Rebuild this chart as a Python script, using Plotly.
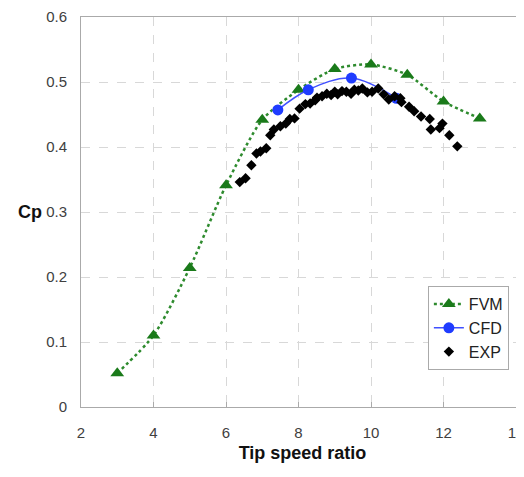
import plotly.graph_objects as go

# FVM (green triangles, dotted curve)
fvm_x = [3, 4, 5, 6, 7, 8, 9, 10, 11, 12, 13]
fvm_y = [0.052, 0.110, 0.214, 0.341, 0.442, 0.488, 0.520, 0.527, 0.511, 0.470, 0.444]

# CFD (blue circles, solid curve)
cfd_x = [7.43, 8.27, 9.46, 10.7]
cfd_y = [0.457, 0.488, 0.506, 0.475]

# EXP (black diamonds)
exp_x = [6.38, 6.54, 6.70, 6.84, 6.95, 7.11, 7.22, 7.32, 7.50, 7.65, 7.76, 7.89,
         8.03, 8.19, 8.32, 8.46, 8.51, 8.65, 8.78, 8.90, 9.00, 9.08, 9.20, 9.32,
         9.45, 9.54, 9.65, 9.76, 9.90, 10.03, 10.20, 10.35, 10.49, 10.65, 10.81,
         10.84, 11.05, 11.19, 11.38, 11.62, 11.65, 11.89, 11.97, 12.16, 12.38]
exp_y = [0.346, 0.352, 0.372, 0.390, 0.393, 0.398, 0.418, 0.427, 0.432, 0.436, 0.443, 0.444,
         0.459, 0.466, 0.467, 0.472, 0.476, 0.478, 0.482, 0.480, 0.485, 0.481, 0.486, 0.485,
         0.482, 0.488, 0.487, 0.490, 0.484, 0.485, 0.490, 0.481, 0.473, 0.478, 0.475,
         0.469, 0.462, 0.455, 0.447, 0.443, 0.427, 0.429, 0.436, 0.418, 0.401]

x_ticks = [2, 4, 6, 8, 10, 12, 14]
y_ticks = [0, 0.1, 0.2, 0.3, 0.4, 0.5, 0.6]

FONT = "Arial, Liberation Sans, sans-serif"

fig = go.Figure()
fig.add_trace(go.Scatter(
    x=fvm_x, y=fvm_y, name="FVM", mode="lines+markers",
    line=dict(color="#2e8b2e", width=2.5, dash="dot", shape="spline", smoothing=0.7),
    marker=dict(symbol="triangle-up", size=12, color="#1a7a1a"),
))
fig.add_trace(go.Scatter(
    x=cfd_x, y=cfd_y, name="CFD", mode="lines+markers",
    line=dict(color="#4050ff", width=1.5, shape="spline"),
    marker=dict(symbol="circle", size=11, color="#1f3cff"),
))
fig.add_trace(go.Scatter(
    x=exp_x, y=exp_y, name="EXP", mode="markers",
    marker=dict(symbol="diamond", size=8, color="black"),
))

fig.update_layout(
    width=516, height=469,
    margin=dict(l=73, r=0, t=9, b=70, autoexpand=False),
    paper_bgcolor="white", plot_bgcolor="white",
    font=dict(family=FONT, color="#404040", size=15),
    showlegend=True,
    legend=dict(
        x=0.783, y=0.31, xanchor="left", yanchor="top",
        bordercolor="#aaaaaa", borderwidth=1, bgcolor="white",
        font=dict(size=16, color="#222222"),
        tracegroupgap=0, itemwidth=30,
    ),
    xaxis=dict(
        range=[2, 14.22], tickvals=x_ticks,
        showgrid=True, gridcolor="#d8d8d8", griddash="dash", gridwidth=1,
        showline=True, linecolor="#aaaaaa", linewidth=1, mirror=True,
        ticks="inside", ticklen=5, tickcolor="#aaaaaa",
        ticklabelstandoff=12, zeroline=False, automargin=False,
        ticklabeloverflow="allow",
        title=dict(text="<b>Tip speed ratio</b>", font=dict(size=18, color="#111111"), standoff=6),
    ),
    yaxis=dict(
        range=[0, 0.6], tickvals=y_ticks, ticktext=["0", "0.1", "0.2", "0.3", "0.4", "0.5", "0.6"],
        showgrid=True, gridcolor="#d8d8d8", griddash="dash", gridwidth=1,
        showline=True, linecolor="#aaaaaa", linewidth=1,
        ticks="", ticklabelstandoff=10, zeroline=False, automargin=False,
        ticklabeloverflow="allow",
    ),
    annotations=[dict(
        text="<b>Cp</b>", xref="paper", yref="paper", x=-0.115, y=0.5,
        xanchor="center", yanchor="middle", showarrow=False,
        font=dict(size=18, color="#111111", family=FONT),
    )],
)

fig.write_html("out.html")
